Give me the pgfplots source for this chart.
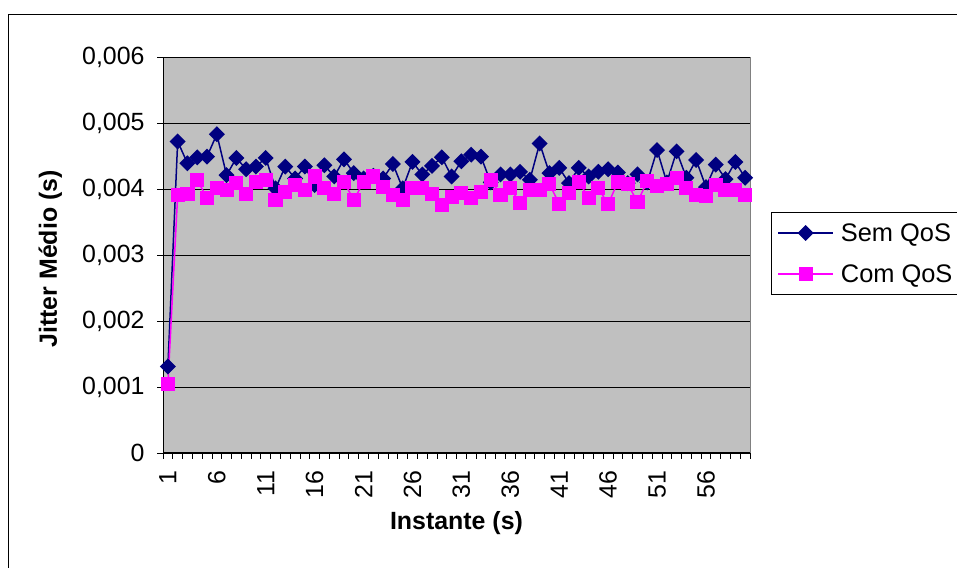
\documentclass[border=0pt]{standalone}
\usepackage{fontspec}
\setmainfont{Liberation Sans}
\usepackage{pgfplots}
\usepackage{pgfplotstable}
\pgfplotsset{compat=1.18}
\definecolor{plotbg}{RGB}{192,192,192}
\definecolor{semc}{RGB}{0,0,128}
\definecolor{comc}{RGB}{255,0,255}
\definecolor{edgec}{RGB}{128,128,128}
\pgfplotstableread{
x y
1 0.00131
2 0.00472
3 0.00439
4 0.00448
5 0.00449
6 0.00483
7 0.00421
8 0.00447
9 0.00430
10 0.00434
11 0.00447
12 0.00401
13 0.00434
14 0.00416
15 0.00434
16 0.00406
17 0.00436
18 0.00419
19 0.00445
20 0.00424
21 0.00416
22 0.00420
23 0.00416
24 0.00438
25 0.00401
26 0.00441
27 0.00422
28 0.00435
29 0.00448
30 0.00419
31 0.00442
32 0.00452
33 0.00449
34 0.00410
35 0.00422
36 0.00422
37 0.00426
38 0.00414
39 0.00469
40 0.00424
41 0.00432
42 0.00409
43 0.00432
44 0.00419
45 0.00426
46 0.00430
47 0.00425
48 0.00409
49 0.00422
50 0.00410
51 0.00459
52 0.00410
53 0.00457
54 0.00417
55 0.00444
56 0.00403
57 0.00437
58 0.00415
59 0.00441
60 0.00417
}\semqos
\pgfplotstableread{
x y
1 0.00104
2 0.00391
3 0.00393
4 0.00414
5 0.00386
6 0.00401
7 0.00398
8 0.00409
9 0.00393
10 0.00411
11 0.00414
12 0.00383
13 0.00396
14 0.00406
15 0.00398
16 0.00419
17 0.00401
18 0.00393
19 0.00411
20 0.00383
21 0.00411
22 0.00419
23 0.00403
24 0.00391
25 0.00383
26 0.00401
27 0.00401
28 0.00393
29 0.00376
30 0.00388
31 0.00394
32 0.00386
33 0.00396
34 0.00414
35 0.00391
36 0.00401
37 0.00379
38 0.00398
39 0.00398
40 0.00408
41 0.00377
42 0.00394
43 0.00411
44 0.00387
45 0.00401
46 0.00377
47 0.00411
48 0.00408
49 0.00380
50 0.00412
51 0.00404
52 0.00407
53 0.00416
54 0.00401
55 0.00391
56 0.00390
57 0.00406
58 0.00398
59 0.00398
60 0.00391
}\comqos
\begin{document}
\begin{tikzpicture}
\useasboundingbox (0,0) rectangle (957bp,568bp);
\fill[white] (0,0) rectangle (957bp,568bp);
\draw[line width=1bp] (8.5bp,-2bp) -- (8.5bp,553.5bp) -- (960bp,553.5bp);
\begin{axis}[
 scale only axis, width=587bp, height=396bp,
 anchor=south west, at={(163bp,115bp)},
 xmin=0.5, xmax=60.5, ymin=0, ymax=0.006,
 clip=false,
 axis background/.style={fill=plotbg},
 axis x line*=bottom, axis y line*=left,
 x axis line style={-, black, line width=1bp},
 y axis line style={-, black, line width=1bp},
 tick align=outside, major tick length=6bp,
 tick style={black, line width=0.8bp},
 xtick={0.5,1.5,...,60.5}, xticklabels={},
 extra x ticks={1,6,11,16,21,26,31,36,41,46,51,56},
 extra x tick labels={1,6,11,16,21,26,31,36,41,46,51,56},
 extra x tick style={major tick length=0pt, grid=none,
   xticklabel style={rotate=90, anchor=east, xshift=-14bp, font=\fontsize{25}{29}\selectfont}},
 ytick={0,0.001,0.002,0.003,0.004,0.005,0.006},
 scaled y ticks=false,
 yticklabel style={/pgf/number format/fixed, /pgf/number format/precision=3, /pgf/number format/use comma, xshift=-9bp},
 /pgf/number format/assume math mode=true,
 ymajorgrids, major grid style={black, line width=0.8bp},
 tick label style={font=\fontsize{25}{29}\selectfont},
 label style={font=\bfseries\fontsize{25}{29}\selectfont},
 xlabel={Instante (s)}, ylabel={Jitter Médio (s)},
 xlabel style={at={(axis description cs:0.5,-0.177)}, anchor=center},
 ylabel style={at={(axis description cs:-0.192,0.49)}, anchor=center},
 legend style={at={(1.0358,0.6086)}, anchor=north west, draw=black, line width=0.8bp, fill=white,
   font=\fontsize{25.5}{29}\selectfont, inner xsep=6bp, inner ysep=9bp, row sep=18bp, cells={anchor=west}},
 legend image code/.code={\draw[mark repeat=2,mark phase=2,#1] plot coordinates {(0bp,0bp) (27.5bp,0bp) (55bp,0bp)}; \path (60bp,0bp);},
]
\addplot[semc, line width=1.5bp, mark=square*, mark size=4.9bp, mark options={solid, rotate=45, fill=semc, draw=none}] table[x=x,y=y] {\semqos};
\addlegendentry{Sem QoS}
\addplot[comc, line width=1.5bp, mark=square*, mark size=6.3bp, mark options={solid, fill=comc, draw=none}] table[x=x,y=y] {\comqos};
\addlegendentry{Com QoS}
\draw[edgec, line width=1bp] (axis cs:60.5,0) -- (axis cs:60.5,0.006);
\end{axis}
\end{tikzpicture}
\end{document}
